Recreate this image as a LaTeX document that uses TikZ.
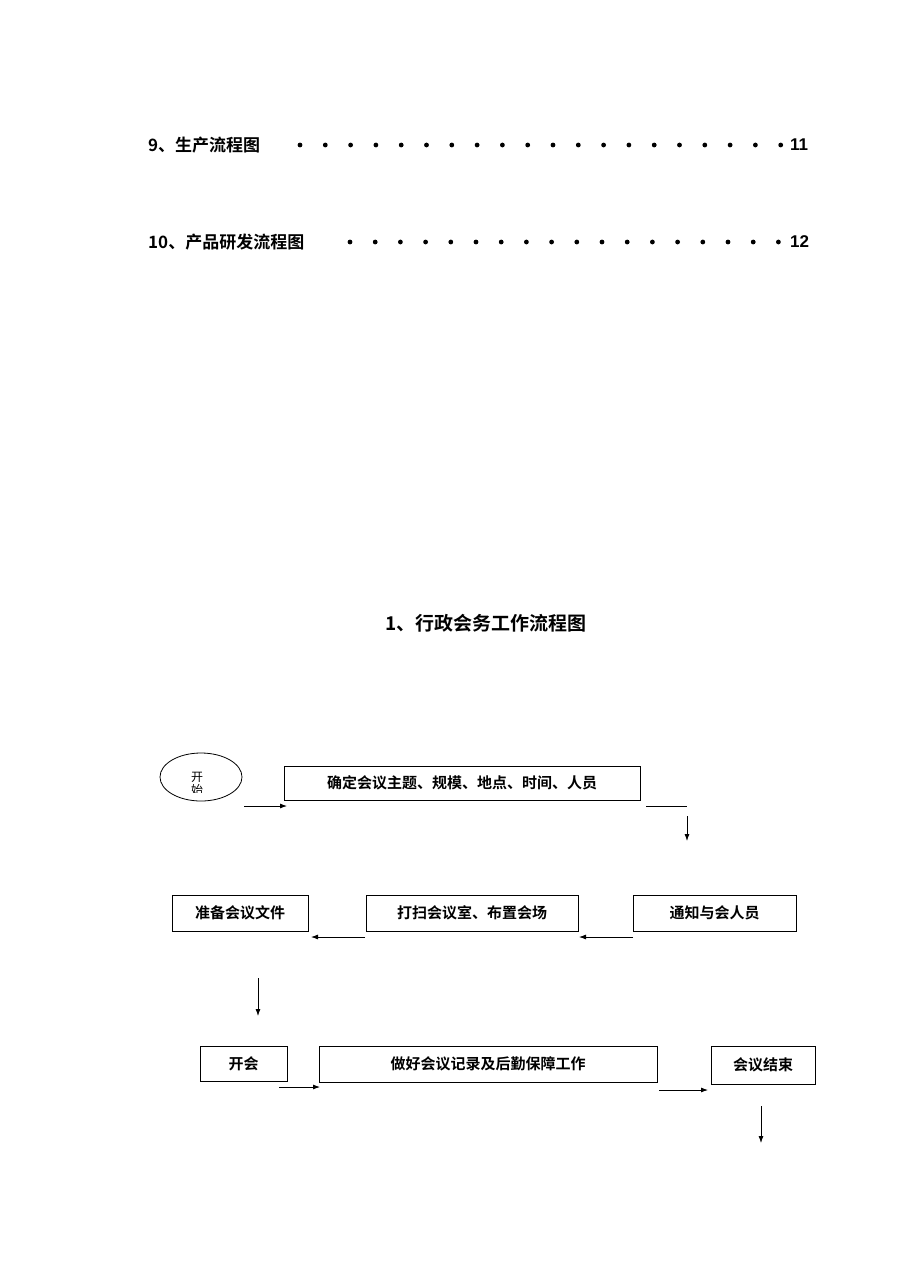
\documentclass[tikz,border=0pt]{standalone}
\usepackage{fontspec}
\setmainfont{Liberation Sans}
\newfontfamily\cjk{Noto Sans CJK SC}[BoldFont={Noto Sans CJK SC Bold}]
\usetikzlibrary{arrows.meta,shapes.geometric}
\begin{document}
\begin{tikzpicture}[x=1pt,y=-1pt,
  box/.style={draw,thick,inner sep=0pt,font=\cjk\bfseries\fontsize{15}{15}\selectfont},
  arr/.style={-{Latex[length=7pt,width=5pt]},line width=0.8pt},
  toc/.style={anchor=west,inner sep=0pt,font=\cjk\bfseries\fontsize{17}{17}\selectfont}]
\useasboundingbox (0,0) rectangle (909,1286);
% TOC
\node[toc] (t1) at (148,145) {9、生产流程图};
\foreach \i in {0,...,19} \fill (300+25.3*\i,145) circle (2.4);
\node[toc,font=\bfseries\fontsize{17}{17}\selectfont] (p1) at (790,145) {11};
\node[toc] (t2) at (148,242) {10、产品研发流程图};
\foreach \i in {0,...,17} \fill (350+25.2*\i,242) circle (2.4);
\node[toc,font=\bfseries\fontsize{17}{17}\selectfont] (p2) at (790,242) {12};
% title
\node[font=\cjk\bfseries\fontsize{19}{19}\selectfont] (title) at (486,623) {1、行政会务工作流程图};
% start
\node[draw,thick,ellipse,minimum width=82pt,minimum height=48pt] (start) at (201,777) {};
\begin{scope}
\clip (160,760) rectangle (240,792);
\node[font=\cjk\fontsize{12}{13}\selectfont,align=center] (st) at (197,784) {开\\始};
\end{scope}
\node[box,minimum width=356pt,minimum height=34pt] (b1) at (462,783) {确定会议主题、规模、地点、时间、人员};
\node[box,minimum width=136pt,minimum height=36pt] (b2) at (240,913) {准备会议文件};
\node[box,minimum width=212pt,minimum height=36pt] (b3) at (472,913) {打扫会议室、布置会场};
\node[box,minimum width=163pt,minimum height=36pt] (b4) at (714.5,913) {通知与会人员};
\node[box,minimum width=87pt,minimum height=35pt] (b5) at (243.5,1063.5) {开会};
\node[box,minimum width=338pt,minimum height=36pt] (b6) at (488,1064) {做好会议记录及后勤保障工作};
\node[box,minimum width=104pt,minimum height=38pt] (b7) at (763,1065) {会议结束};
% connectors
\coordinate (a1s) at (244,806); \coordinate (a1e) at (287,806);
\draw[arr] (a1s) -- (a1e);
\coordinate (a2s) at (646,806); \coordinate (a2m) at (687,806); \coordinate (a2e) at (687,841);
\draw (a2s) -- (a2m); \draw[arr] (687,816) -- (a2e);
\coordinate (a3s) at (633,937); \coordinate (a3e) at (579,937);
\draw[arr] (a3s) -- (a3e);
\coordinate (a4s) at (365,937); \coordinate (a4e) at (311,937);
\draw[arr] (a4s) -- (a4e);
\coordinate (a5s) at (258,978); \coordinate (a5e) at (258,1016);
\draw[arr] (a5s) -- (a5e);
\coordinate (a6s) at (279,1087); \coordinate (a6e) at (320,1087);
\draw[arr] (a6s) -- (a6e);
\coordinate (a7s) at (659,1090); \coordinate (a7e) at (708,1090);
\draw[arr] (a7s) -- (a7e);
\coordinate (a8s) at (761,1106); \coordinate (a8e) at (761,1143);
\draw[arr] (a8s) -- (a8e);
\end{tikzpicture}
\end{document}
